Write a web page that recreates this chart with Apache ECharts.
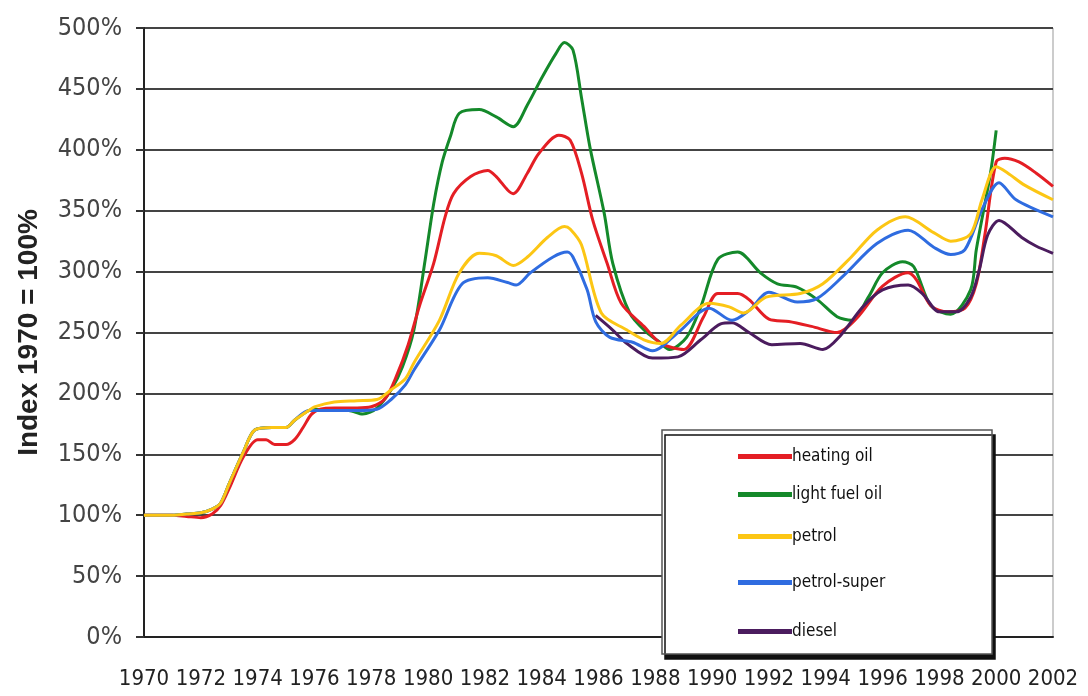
<!DOCTYPE html>
<html>
<head>
<meta charset="utf-8">
<script src="https://cdn.jsdelivr.net/npm/echarts@6/dist/echarts.min.js"></script>
<style>
  html, body { margin: 0; padding: 0; background: #fff; }
  #chart { width: 1088px; height: 696px; }
</style>
</head>
<body>
<div id="chart"></div>
<script>
// values are [year, index in %]
const heatingOil = [[1970,100],[1971,100],[1971.5,99],[1972,98],[1972.4,101],[1972.7,108],[1973,122],[1973.5,148],[1974,162],[1974.3,162],[1974.6,158],[1975,158],[1975.3,162],[1975.6,172],[1975.9,183],[1976.2,187],[1976.7,188],[1977.5,188],[1978,189],[1978.5,196],[1978.9,215],[1979.3,240],[1979.7,272],[1980.2,307],[1980.6,345],[1980.9,364],[1981.5,378],[1982.1,383],[1982.4,378],[1982.8,367],[1983,364],[1983.5,381],[1983.9,397],[1984.6,412],[1985,408],[1985.4,381],[1985.8,342],[1986.3,307],[1986.8,274],[1987.6,255],[1988.2,241],[1989,236],[1989.7,263],[1990.2,282],[1990.9,282],[1991.3,277],[1992,261],[1992.7,259],[1993.5,255],[1994.4,250],[1995.1,262],[1996,288],[1996.9,299],[1997.2,293],[1997.7,272],[1998.3,267],[1998.9,270],[1999.3,290],[1999.6,330],[2000,390],[2000.3,393],[2000.8,390],[2001.4,381],[2002,370]]

const lightFuelOil = [[1970,100],[1971,100],[1971.5,101],[1972,102],[1972.4,105],[1972.7,110],[1973,126],[1973.5,152],[1973.9,170],[1974.5,172],[1975,172],[1975.3,178],[1975.8,186],[1976,187],[1976.5,186],[1977.2,186],[1977.7,183],[1978.2,188],[1978.7,203],[1979.1,222],[1979.5,252],[1979.9,310],[1980.2,356],[1980.5,390],[1980.8,412],[1981.1,430],[1981.8,433],[1982.4,427],[1983,419],[1983.5,437],[1984,459],[1984.5,479],[1984.8,488],[1985.1,482],[1985.4,443],[1985.7,402],[1986.2,348],[1986.5,307],[1987.1,266],[1987.7,250],[1988.1,243],[1988.5,236],[1989.1,246],[1989.6,271],[1990.2,310],[1990.9,316],[1991.7,299],[1992.3,290],[1993,287],[1993.7,277],[1994.4,263],[1994.9,260],[1995.5,279],[1996,299],[1996.7,308],[1997.1,304],[1997.7,272],[1998.4,265],[1999.1,285],[1999.3,318],[1999.8,381],[2000,416]]

const petrol = [[1970,100],[1971,100],[1971.5,101],[1972,102],[1972.4,105],[1972.7,110],[1973,126],[1973.5,152],[1973.9,170],[1974.5,172],[1975,172],[1975.3,178],[1975.8,186],[1976,189],[1976.7,193],[1977.5,194],[1978.2,195],[1978.7,203],[1979.2,212],[1979.5,225],[1980.4,260],[1981.1,299],[1981.8,315],[1982.4,313],[1983,305],[1983.5,312],[1984.2,328],[1984.8,337],[1985,335],[1985.4,322],[1986.1,266],[1987,252],[1987.6,244],[1988.2,241],[1988.9,256],[1989.9,274],[1990.6,271],[1991.1,266],[1991.9,279],[1993.1,282],[1993.9,290],[1994.9,312],[1995.8,334],[1996.8,345],[1997.8,332],[1998.4,325],[1999.1,331],[1999.5,359],[2000,386],[2000.4,381],[2001,371],[2002,359]]

const petrolSuper = [[1970,100],[1971,100],[1971.5,101],[1972,102],[1972.4,105],[1972.7,110],[1973,126],[1973.5,152],[1973.9,170],[1974.5,172],[1975,172],[1975.3,178],[1975.8,186],[1976,186],[1976.5,186],[1977.5,186],[1978.2,187],[1978.7,195],[1979.2,207],[1979.5,219],[1980.4,252],[1981.2,290],[1982.1,295],[1982.8,291],[1983.1,289],[1983.6,299],[1984.4,312],[1984.9,316],[1985.1,312],[1985.6,285],[1985.9,259],[1986.4,246],[1987.2,242],[1987.9,235],[1988.8,250],[1989.9,270],[1990.7,260],[1991.3,268],[1992,283],[1993,275],[1993.7,278],[1994.6,296],[1995.8,323],[1996.9,334],[1997.8,320],[1998.4,314],[1998.9,318],[1999.5,351],[2000.1,373],[2000.7,359],[2002,345]]

const diesel = [[1985.9,264],[1986.5,252],[1987,241],[1987.9,229],[1988.8,230],[1989.6,244],[1990.3,257],[1990.7,258],[1991.3,250],[1992.1,240],[1993.1,241],[1993.9,236],[1994.5,247],[1995.3,271],[1996,285],[1996.9,289],[1997.4,282],[1998,267],[1998.6,267],[1999.1,279],[1999.4,301],[1999.7,330],[2000.1,342],[2000.9,328],[2001.4,321],[2002,315]]

const names = ["heating oil", "light fuel oil", "petrol", "petrol-super", "diesel"]
const colors = ["#e41e24", "#14892a", "#fcc614", "#2f6ce0", "#4b1c5e"]
const seriesData = [heatingOil, lightFuelOil, petrol, petrolSuper, diesel]
// drawing order, petrol on top in the early years
const zOrder = [3, 2, 5, 4, 3]
const legendTops = [443, 481, 523, 569, 618]

const narrow = "'Liberation Sans Narrow', 'DejaVu Sans Condensed', sans-serif"

function init() {
    let chart = echarts.init(document.getElementById("chart"))

    let series = names.map((name, i) => {
        return {
            name: name,
            type: "line",
            data: seriesData[i],
            smooth: 0.3,
            showSymbol: false,
            z: zOrder[i],
            lineStyle: { color: colors[i], width: 3 },
            itemStyle: { color: colors[i] }
        }
    })

    let legends = names.map((name, i) => {
        return {
            data: [name],
            left: 733,
            top: legendTops[i],
            z: 20,
            icon: "rect",
            itemWidth: 54,
            itemHeight: 5,
            textStyle: { fontFamily: narrow, fontSize: 17, color: "#111", padding: [0, 0, 0, -5] }
        }
    })

    chart.setOption({
        backgroundColor: "#fff",
        animation: false,
        grid: {
            left: 144, right: 35, top: 28, bottom: 59,
            show: true, borderColor: "#999", borderWidth: 1
        },
        xAxis: {
            type: "value",
            min: 1970, max: 2002, interval: 2,
            axisLine: { show: true, lineStyle: { color: "#222", width: 2 } },
            axisTick: { show: false },
            splitLine: { show: false },
            axisLabel: {
                margin: 31, fontFamily: narrow, fontSize: 22, color: "#222",
                showMinLabel: true, showMaxLabel: true, hideOverlap: false,
                formatter: v => String(v)
            }
        },
        yAxis: {
            type: "value",
            min: 0, max: 500, interval: 50,
            name: "Index 1970 = 100%",
            nameLocation: "middle",
            nameGap: 101,
            nameRotate: 90,
            nameTextStyle: { fontFamily: "'Liberation Sans', Arial, sans-serif", fontWeight: "bold", fontSize: 28, color: "#222" },
            axisLine: { show: true, lineStyle: { color: "#222", width: 2 } },
            axisTick: { show: true, length: 8, lineStyle: { color: "#333", width: 2 } },
            splitLine: { show: true, lineStyle: { color: "#444", width: 2 } },
            axisLabel: {
                margin: 22, fontFamily: narrow, fontSize: 25, color: "#444",
                formatter: "{value}%"
            }
        },
        legend: legends,
        graphic: [{
            type: "rect",
            z: 10,
            shape: { x: 662, y: 430, width: 330, height: 224 },
            style: {
                fill: "#fff", stroke: "#555", lineWidth: 1.5,
                shadowColor: "#111", shadowOffsetX: 3, shadowOffsetY: 5, shadowBlur: 0
            }
        }],
        series: series
    })
}

init()
</script>
</body>
</html>
